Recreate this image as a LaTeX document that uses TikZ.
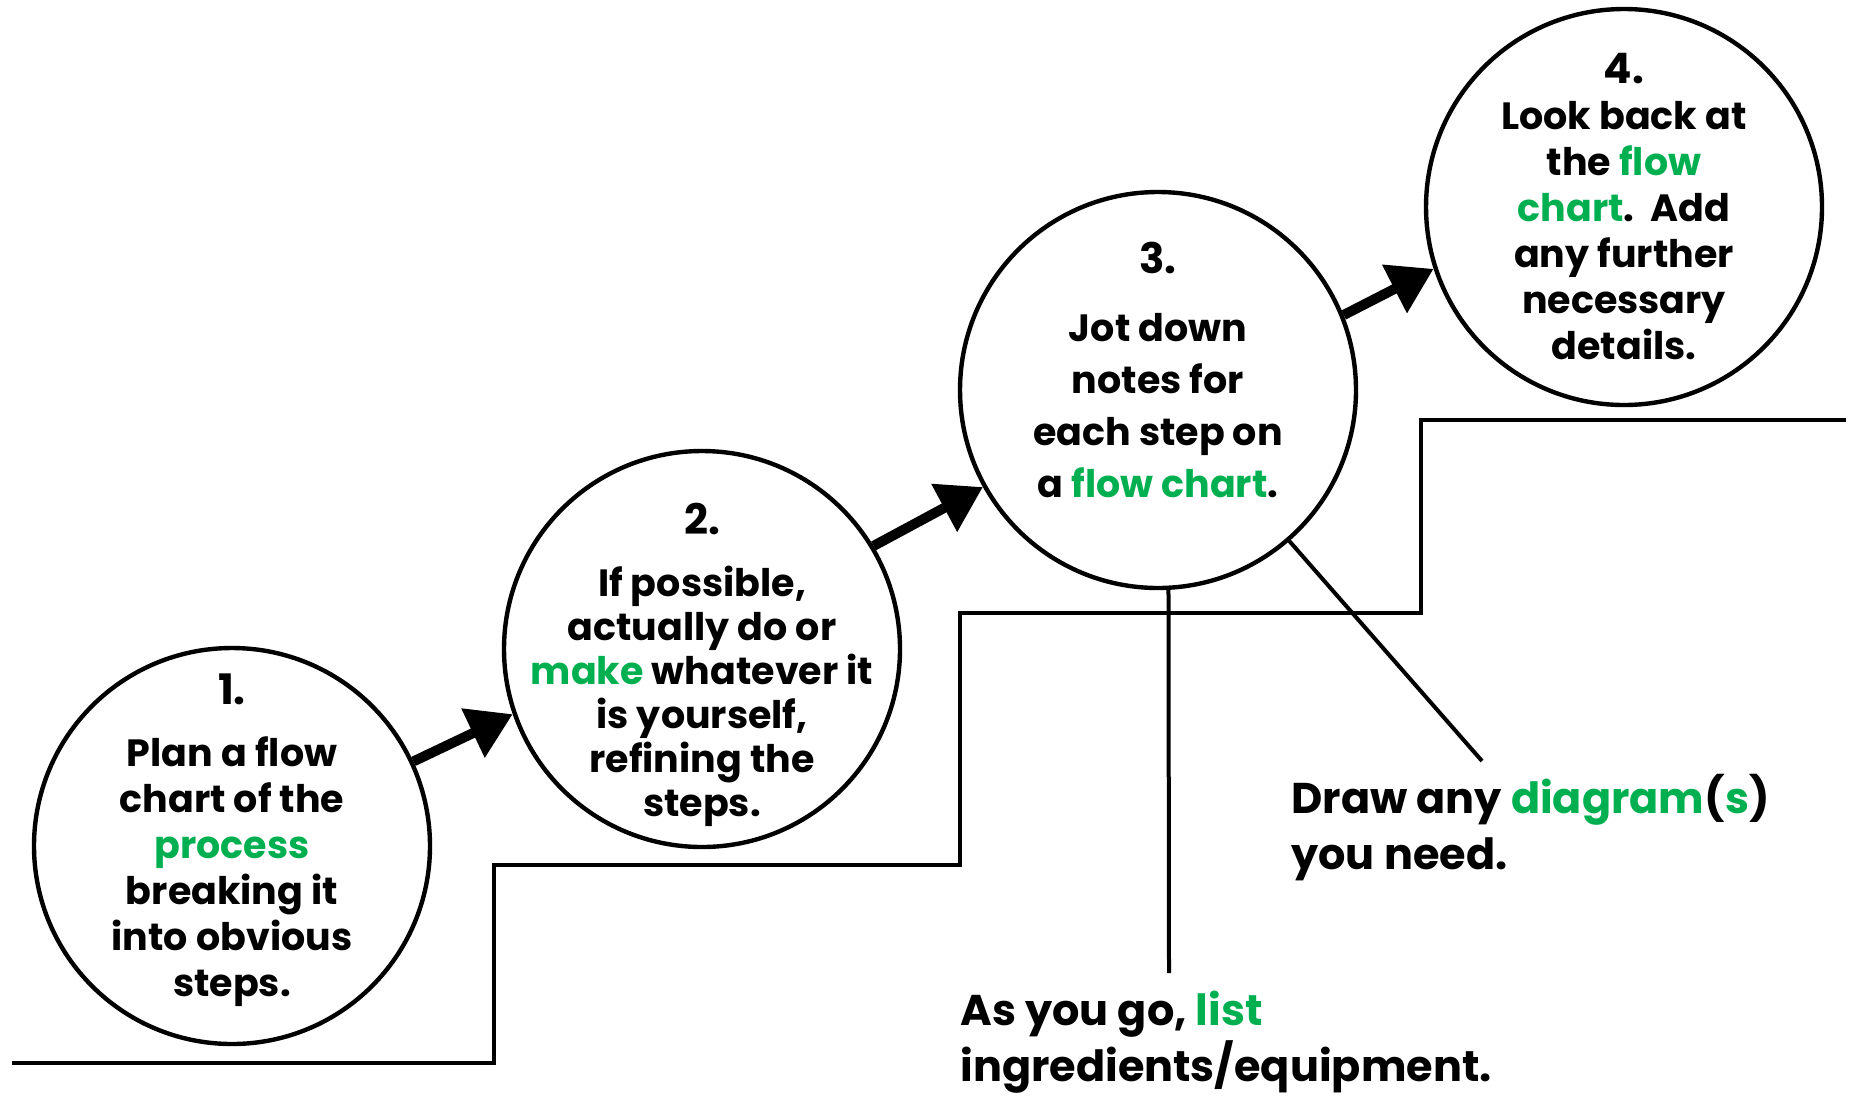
\documentclass[tikz,border=0pt]{standalone}
\usepackage{fontspec}
\setmainfont{Poppins}
\usetikzlibrary{arrows.meta}

\definecolor{keygreen}{HTML}{00B050}
\newcommand{\kw}[1]{\textcolor{keygreen}{#1}}
\newcommand{\stepno}[1]{{\fontsize{21}{21}\selectfont #1}}

\tikzset{
  stepcircle/.style={circle, draw, line width=2.2pt, fill=white, minimum size=198pt, inner sep=0pt},
  steptext/.style={inner sep=0pt, align=center, font=\bfseries\fontsize{19}{23}\selectfont},
  steparrow/.style={line width=5pt, -{Triangle[length=22pt,width=26pt]}},
  stairline/.style={line width=2pt},
  leader/.style={line width=2pt},
  notetext/.style={anchor=north west, inner sep=0pt, align=left,
    font=\bfseries\fontsize{21.5}{28}\selectfont},
}

\begin{document}
\begin{tikzpicture}[x=0.5pt, y=-0.5pt]
    \useasboundingbox (0,0) rectangle (1856,1098);

    % the staircase
    \draw[stairline] (12,1063) -| (494,865) -| (960,613) -| (1421,420) -- (1846,420);

    % the four steps
    \node[stepcircle] (c1) at (232,846) {};
    \node[steptext, yshift=3pt] (t1) at (c1) {\stepno{1.}\\[8pt]
        Plan a flow\\ chart of the\\ \kw{process}\\ breaking it\\ into obvious\\ steps.};

    \node[stepcircle] (c2) at (702,649) {};
    \node[steptext, yshift=-8pt, font=\bfseries\fontsize{19}{22}\selectfont] (t2) at (c2) {\stepno{2.}\\[9pt]
        If possible,\\ actually do or\\ \kw{make} whatever it\\ is yourself,\\ refining the\\ steps.};

    \node[stepcircle] (c3) at (1158,390) {};
    \node[steptext, yshift=10pt, font=\bfseries\fontsize{19}{26}\selectfont] (t3) at (c3) {\stepno{3.}\\[8pt]
        Jot down\\ notes for\\ each step on\\ a \kw{flow chart}.};

    \node[stepcircle] (c4) at (1624,207) {};
    \node[steptext] (t4) at (c4) {\stepno{4.}\\
        Look back at\\ the \kw{flow}\\ \kw{chart}.\ \ Add\\ any further\\ necessary\\ details.};

    \draw[steparrow] (c1.25) -- (c2.199);
    \draw[steparrow] (c2.31) -- (c3.209);
    \draw[steparrow] (c3.22) -- (c4.198);

    % notes under step 3
    \node[notetext] (drawnote) at (1291,774) {Draw any \kw{diagram}(\kw{s})\\ you need.};
    \node[notetext] (listnote) at (960,991) {As you go, \kw{list}\\ ingredients/equipment.};

    \coordinate (drawend) at (1482,761);
    \coordinate (listend) at (1169,973);
    \draw[leader] (c3.-49) -- (drawend);
    \draw[leader] (c3.-87) -- (listend);
\end{tikzpicture}
\end{document}
